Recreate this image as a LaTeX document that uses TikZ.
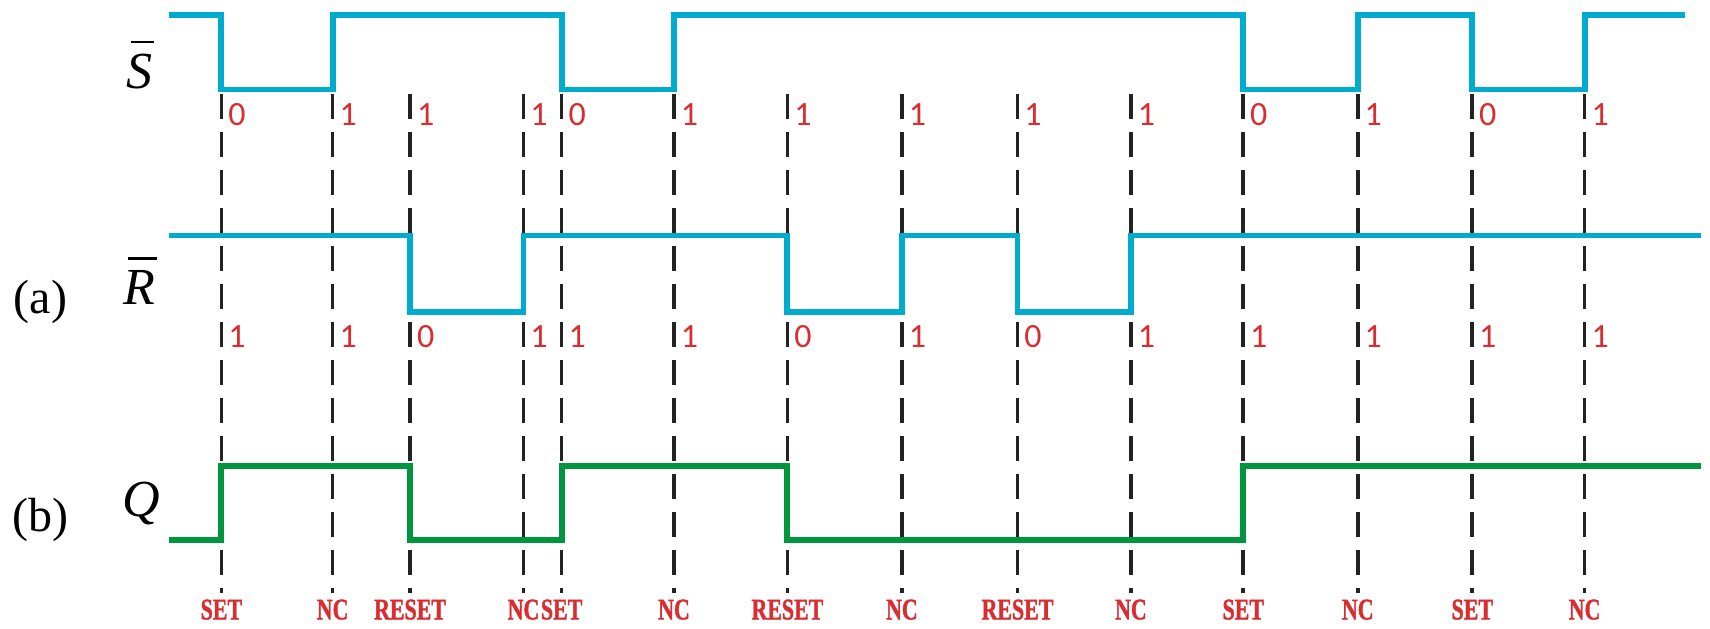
\documentclass[tikz,border=0pt]{standalone}
\usepackage{fontspec}
\setmainfont{Liberation Serif}
\newfontfamily\digitfont{Carlito}
\newfontfamily\labfont[FakeStretch=0.73,FakeBold=1.2]{Liberation Serif Bold}
\definecolor{sigblue}{RGB}{0,172,206}
\definecolor{siggreen}{RGB}{0,150,64}
\definecolor{labred}{RGB}{218,45,48}
\definecolor{guide}{RGB}{35,35,35}
\begin{document}
\begin{tikzpicture}[x=0.5453pt,y=-0.5453pt,
  inwave/.style={line width=2.9pt, color=sigblue, line join=miter, line cap=butt},
  outwave/.style={line width=2.9pt, color=siggreen, line join=miter, line cap=butt},
  guideline/.style={line width=1.8pt, color=guide, dash pattern=on 12.5pt off 6.5pt},
  bitlab/.style={anchor=west, inner sep=0pt, text=labred, font=\digitfont\fontsize{17}{18}\selectfont},
  statelab/.style={anchor=center, inner sep=0pt, text=labred, font=\labfont\fontsize{15}{16}\selectfont},
  varlab/.style={inner sep=0pt, font=\itshape\fontsize{26}{28}\selectfont},
  partlab/.style={inner sep=0pt, font=\fontsize{24}{26}\selectfont},
  barline/.style={line width=1.3pt}]
\useasboundingbox (0,0) rectangle (1568,576);

% guide lines with labels
\foreach \x/\s/\r/\q [count=\i] in {203/0/1/SET,305/1/1/NC,376/1/0/RESET,480/1/1/NC,515/0/1/SET,618/1/1/NC,722/1/0/RESET,827/1/1/NC,933/1/0/RESET,1037/1/1/NC,1140/0/1/SET,1245/1/1/NC,1350/0/1/SET,1453/1/1/NC}{
  \coordinate (top\i) at (\x,86);
  \coordinate (bot\i) at (\x,544);
  \draw[guideline] (top\i) -- (bot\i);
  \node[bitlab] (s\i) at (\x+6,105) {\s};
  \node[bitlab] (r\i) at (\x+6,309) {\r};
  \node[statelab] (q\i) at (\x,559) {\q};
}

% waveforms
\draw[inwave] (155,14) -- (203,14) -- (203,82) -- (305,82) -- (305,14) -- (515,14) -- (515,82) -- (618,82) -- (618,14) -- (1140,14) -- (1140,82) -- (1245,82) -- (1245,14) -- (1350,14) -- (1350,82) -- (1453,82) -- (1453,14) -- (1545,14);
\draw[inwave] (155,216) -- (376,216) -- (376,286) -- (480,286) -- (480,216) -- (722,216) -- (722,286) -- (827,286) -- (827,216) -- (933,216) -- (933,286) -- (1037,286) -- (1037,216) -- (1560,216);
\draw[outwave] (155,495) -- (203,495) -- (203,427) -- (376,427) -- (376,495) -- (515,495) -- (515,427) -- (722,427) -- (722,495) -- (1140,495) -- (1140,427) -- (1560,427);

% signal names
\node[varlab] (Sname) at (128,66) {S};
\draw[barline] ([xshift=2.5pt,yshift=6pt]Sname.north west) -- ([xshift=0.5pt,yshift=6pt]Sname.north east);
\node[varlab] (Rname) at (128,264) {R};
\draw[barline] ([xshift=2.5pt,yshift=6pt]Rname.north west) -- ([xshift=0.5pt,yshift=6pt]Rname.north east);
\node[varlab] (Qname) at (130,462) {Q};
\node[partlab] (pa) at (37,277) {(a)};
\node[partlab] (pb) at (37,477) {(b)};
\end{tikzpicture}
\end{document}
